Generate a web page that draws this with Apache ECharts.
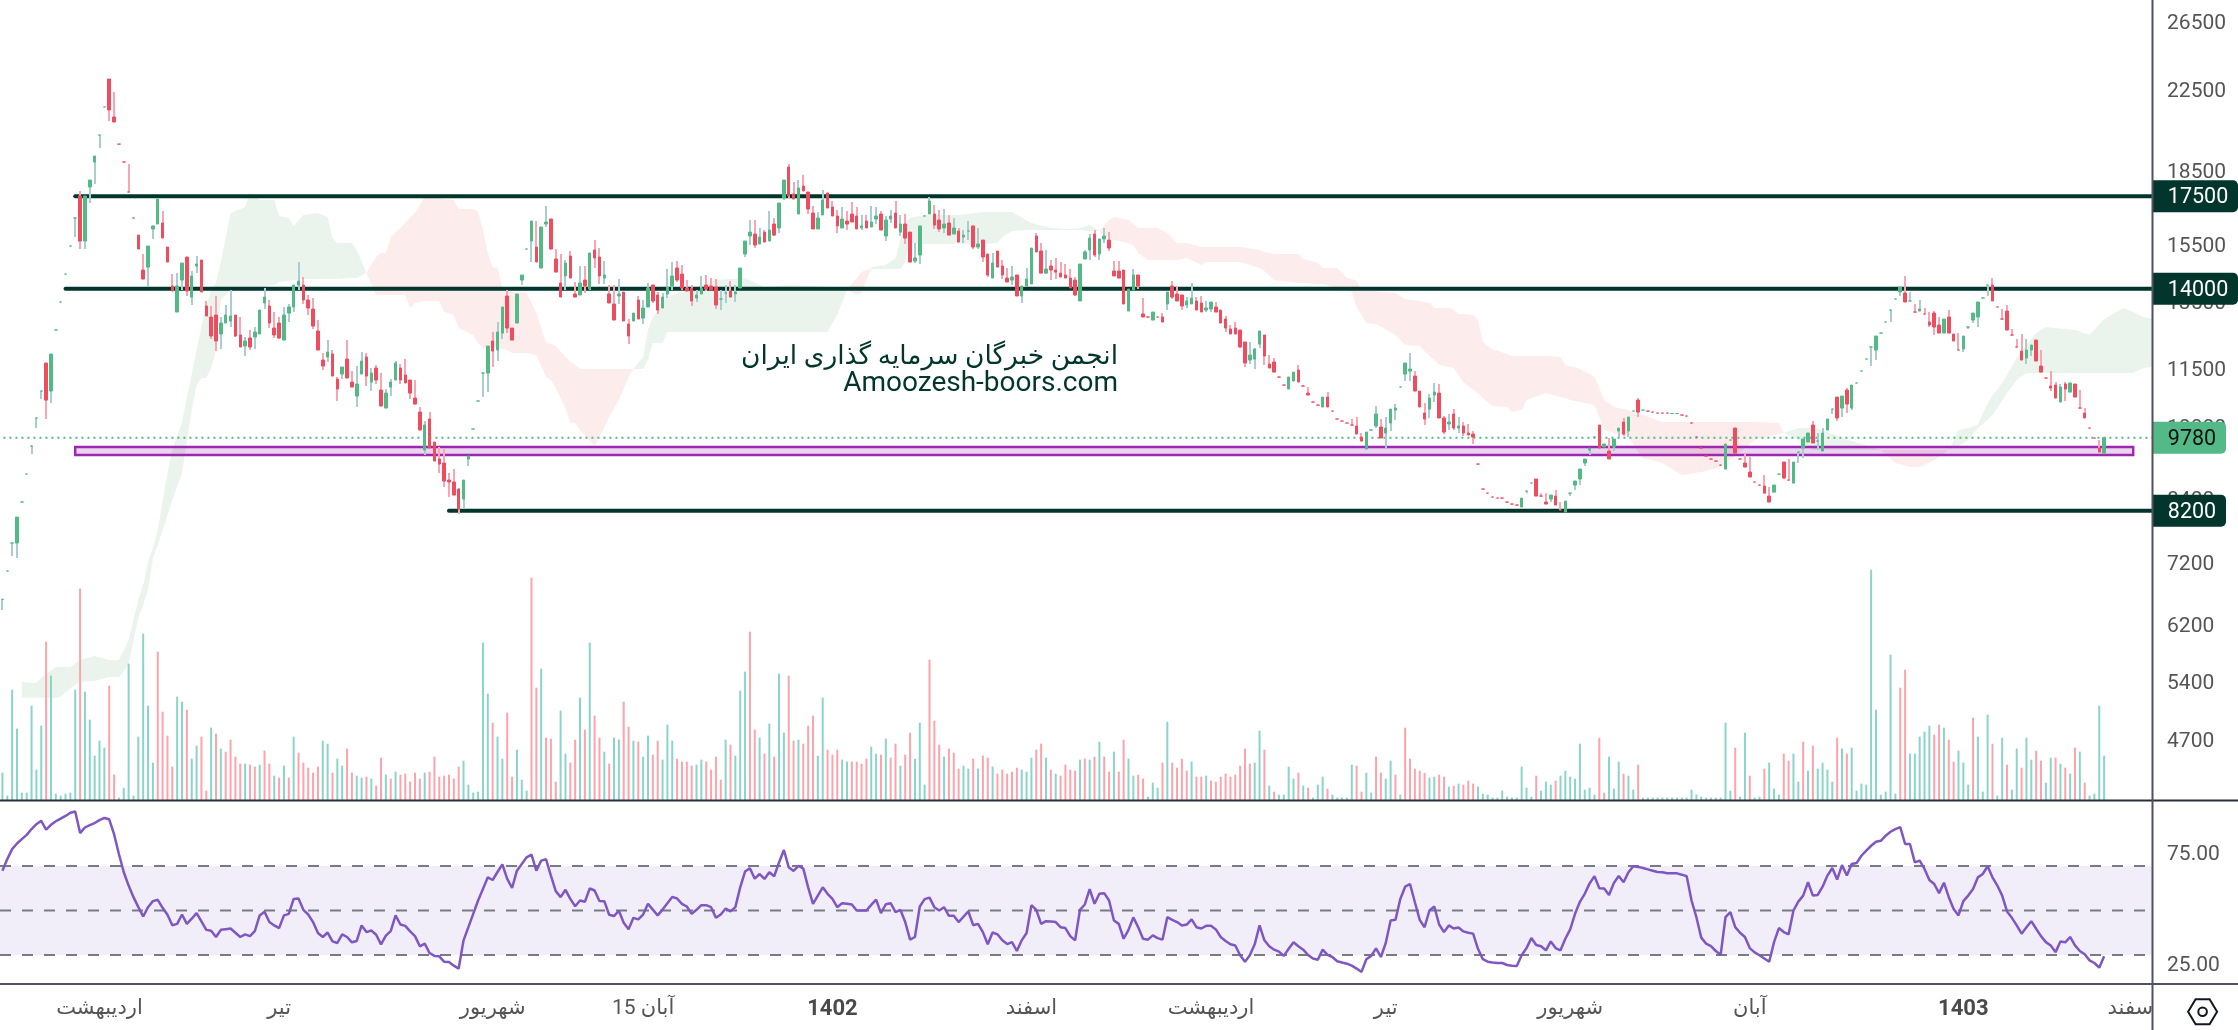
<!DOCTYPE html>
<html lang="fa"><head><meta charset="utf-8"><title>chart</title>
<style>html,body{margin:0;padding:0;background:#fff}#c{width:2238px;height:1030px}</style>
<script src="https://cdn.jsdelivr.net/npm/echarts@6/dist/echarts.min.js"></script></head>
<body><div id="c"></div>
<script>
// [open, close, low, high]
const candles = [
[6625,6626,6456,6626],[7092,7093,7092,7093],[7588,7589,7352,7589],[7588,8077,7318,8077],[8375,8376,8375,8376],[8958,8959,8958,8959],[9586,9587,9401,9587],[10255,10256,10010,10256],[10943,10944,10734,10944],[11708,10708,10230,11708],
[10943,11964,10631,11964],[12676,12677,12676,12677],[13562,13563,13562,13563],[14505,14506,14505,14506],[15520,15521,15520,15521],[16604,16605,15860,16605],[17510,15708,15408,17720],[15708,17510,15408,17510],[17892,18196,17216,18196],[19005,19280,18023,19280],
[20280,20281,19655,20281],[21700,21701,21700,21701],[23210,21540,20975,23210],[21180,20925,20925,22490],[19840,19839,19839,19840],[19005,19004,19004,19005],[17678,17677,17677,18910],[16604,16603,16603,16604],[15935,15408,15408,15935],[14648,14333,14333,15225],
[14753,15520,14060,15520],[16170,16290,15785,16290],[16365,17382,16365,17382],[16405,15822,15822,16886],[15483,14933,14933,15483],[14095,13925,13925,14505],[13238,14095,13238,14540],[14299,14898,13959,14898],[15115,13925,13760,15115],[13725,14440,13465,14612],
[14790,14862,14540,15150],[15005,13893,13893,15005],[13432,13112,13112,13595],[13080,12495,12405,13432],[13143,12345,12050,13760],[12555,12892,12110,13080],[12892,13143,12892,13465],[12954,13112,12768,13959],[13143,12495,12465,13143],[12525,12168,12168,13080],
[12197,12345,11908,12465],[12435,12168,12080,12676],[12465,12615,12110,12768],[12555,13302,12555,13302],[13530,13725,13335,14027],[13432,12892,12737,13627],[12737,12525,12435,13238],[12892,12435,12405,13080],[12374,13143,12374,13400],[13206,13400,12923,13497],
[13400,14129,13238,14129],[14129,14265,13959,14933],[14129,13627,13497,14404],[13627,13367,13143,13793],[13335,12799,12707,13693],[12646,12080,12080,12985],[11792,11623,11511,11993],[11878,12022,11736,12374],[11964,11346,11346,12080],[11264,10996,10683,11319],
[11401,11595,11264,11595],[11820,11292,11292,12374],[11183,11049,11049,11483],[10812,11130,10530,11623],[11401,11764,11401,12022],[11878,11346,11076,11993],[11183,11428,10943,11567],[11567,11237,11130,11651],[10969,10555,10555,11428],[10504,10890,10504,10996],
[11049,11183,10812,11264],[11237,11708,11237,11764],[11567,11237,11130,11680],[11374,11157,11157,11820],[11237,10890,10734,11237],[10760,10605,10605,11237],[10403,9962,9962,10530],[9493,10083,9380,10180],[10230,9539,9539,10403],[9678,9245,9245,9678],
[9290,9178,8981,9562],[9200,8810,8683,9516],[8831,8789,8477,8981],[8789,8517,8517,9068],[8641,8235,8135,8662],[8436,8831,8255,8831],[9290,9358,9134,9358],[9986,9987,9986,9987],[10683,10684,10683,10684],[11428,11429,10786,11429],
[11428,12197,10916,12197],[12345,12050,11595,12615],[12080,12615,11764,12923],[12584,13400,12405,13400],[13760,12737,12584,13959],[12737,12374,12374,12737],[12892,13825,12892,13825],[14299,14473,14129,14473],[15408,15409,15408,15409],[15708,16485,14933,16485],
[15483,14933,14933,16485],[14719,16248,14719,16248],[16365,16445,16248,17090],[16565,15408,15408,16565],[15042,14576,14576,15408],[14197,13725,13725,15225],[14440,14898,13959,15005],[15150,14368,14368,15335],[13827,13725,13725,14231],[13793,14197,13793,14790],
[14299,14095,13859,14790],[13993,15262,13959,15262],[15371,15079,14719,15746],[15115,14440,14163,15445],[14368,14473,14163,14969],[13827,13530,13530,14129],[13497,12985,12985,14129],[13760,13827,13497,14333],[13893,12954,12954,13893],[12861,12495,12255,13017],
[12954,13206,12954,13206],[13627,13017,13017,13760],[13048,13367,12861,13627],[13400,14027,13400,14197],[14129,13595,13530,14129],[13793,13302,13175,13893],[13367,13725,13367,13859],[13825,14060,13693,14684],[14095,14440,13959,14933],[14719,14299,14231,14969],
[14505,14027,13959,14826],[14027,13925,13925,14299],[14027,13595,13432,14129],[13693,13793,13562,13959],[13827,14027,13827,14440],[14129,13993,13925,14473],[14095,13959,13959,14368],[14060,13465,13335,14333],[13660,13661,13302,13959],[13859,13860,13530,14129],
[13925,13725,13725,14265],[13827,13893,13562,14129],[14027,14719,14027,14719],[15225,15708,15115,15708],[15900,16050,15558,16524],[15975,15558,15445,16524],[15595,15860,15595,16209],[16050,15670,15670,16130],[15708,16130,15708,16886],[16365,15935,15900,16604],
[16209,17216,16012,17216],[17424,18196,17340,18196],[18775,17510,17424,18910],[17595,17382,17382,18110],[16765,17850,16765,18196],[17937,17720,17720,18415],[17678,16968,16765,17678],[16805,16170,16170,17090],[16170,16604,16170,16845],[16725,17340,16725,17763],
[17637,17008,17008,17637],[17050,16685,16685,17298],[16685,16290,16012,16927],[16209,16565,16209,17050],[16485,16365,16130,16886],[16765,16445,16445,17256],[16685,16170,16170,17050],[16209,16290,16130,16725],[16485,16209,16209,16725],[16248,16445,16248,17090],
[16565,16685,16365,17050],[16765,16130,16130,16886],[15900,16524,15708,16685],[16565,16685,16405,16927],[16805,16209,16209,17298],[16050,16365,15900,16725],[16365,15822,15595,16765],[16050,14933,14933,16050],[14969,15079,14898,15633],[15188,16290,14862,16290],
[16685,16686,16685,16686],[16765,17298,16765,17467],[16765,16325,16170,17130],[16524,16170,16050,16927],[16209,16365,16012,16968],[16405,15935,15935,16725],[15975,16209,15975,16604],[16091,15670,15670,16209],[15860,15935,15633,16130],[16091,16092,15746,16485],
[16290,15483,15408,16290],[15483,15595,15408,16209],[15746,15115,14933,15746],[15225,14473,14404,15225],[14368,14898,14368,15262],[15335,14753,14753,15335],[14790,14473,14333,15005],[14368,14231,14231,14719],[14299,14404,14129,14790],[14473,13760,13760,14473],
[13760,14095,13530,14095],[14095,14333,14095,14719],[14163,15445,14163,15445],[15900,15300,15300,16012],[15335,14540,14540,15633],[14540,14684,14505,15371],[14790,14648,14299,15005],[14648,14576,14333,15079],[14540,14404,14404,14933],[14473,14368,14368,14862],
[14368,14027,14027,14684],[14299,13793,13760,14404],[13595,14862,13595,14862],[15042,15300,15042,15371],[15371,15822,15005,15975],[15975,15188,15115,16130],[15225,15785,15005,15785],[15785,15900,15633,16209],[15746,15445,15335,16050],[14612,14440,14440,14969],
[14612,14368,14368,14969],[14648,13497,13497,14648],[13270,13993,13270,13993],[13959,14473,13959,14684],[14473,14095,13993,14473],[13175,13080,13080,13693],[13080,13079,13079,13080],[12985,13238,12985,13238],[13080,13079,13079,13080],[13080,12923,12923,13206],
[13497,13893,13302,13893],[14095,13725,13660,14265],[13827,13595,13595,14095],[13793,13432,13302,13793],[13465,13595,13367,13725],[13497,13693,13497,14197],[13595,13302,13302,13725],[13530,13238,13238,13760],[13302,13367,13238,13595],[13335,13562,13238,13562],
[13400,13238,13238,13562],[13302,12892,12892,13302],[13017,12737,12615,13112],[12707,12555,12555,12830],[12737,12555,12555,12923],[12676,12168,12139,12676],[12315,11708,11595,12315],[11792,11935,11680,12315],[11820,12110,11539,12139],[12255,12646,12139,12646],
[12525,11908,11651,12525],[11680,11567,11567,11935],[11736,11455,11455,11850],[11319,11318,11318,11319],[11103,11102,11102,11103],[10996,11319,10996,11319],[11210,11455,11210,11455],[11511,11183,11183,11651],[11076,11075,11075,11103],[10890,10838,10838,11049],
[10657,10656,10656,10657],[10580,10579,10579,10580],[10530,10786,10530,10786],[10786,10530,10530,10916],[10428,10427,10427,10428],[10230,10229,10229,10230],[10180,10179,10179,10180],[10132,10131,10131,10132],[10083,10082,10082,10230],[10059,9866,9866,10280],
[9795,9700,9700,9890],[9516,9914,9516,9914],[9962,9963,9962,9963],[10059,10354,10010,10555],[10035,9772,9772,10230],[9890,10010,9539,10280],[10132,10478,9938,10478],[10453,10504,10205,10605],[11049,11050,11049,11050],[11401,11708,11210,11708],
[11483,11539,11210,11993],[11346,10943,10943,11483],[10943,10530,10530,10943],[10378,10230,10083,10631],[10478,10760,10255,10864],[10838,10916,10657,11157],[10890,10255,10255,11130],[10255,9914,9866,10304],[10108,10156,9962,10354],[10354,10010,9962,10478],
[10010,10059,9890,10280],[10059,9890,9819,10156],[9890,9843,9843,10108],[9866,9795,9632,9938],[9178,9177,9177,9178],[8641,8640,8640,8641],[8557,8556,8556,8557],[8477,8476,8476,8477],[8456,8455,8455,8456],[8456,8455,8455,8456],
[8375,8374,8374,8375],[8335,8334,8334,8335],[8315,8314,8314,8315],[8275,8456,8275,8456],[8599,8600,8557,8600],[8767,8768,8767,8768],[8853,8497,8497,8853],[8497,8496,8496,8557],[8375,8335,8335,8557],[8436,8517,8375,8517],
[8497,8315,8315,8620],[8215,8214,8214,8375],[8175,8395,8175,8395],[8557,8558,8497,8558],[8725,8810,8620,8810],[8853,9068,8725,9068],[9200,9290,9134,9290],[9493,9539,9380,9539],[9795,9796,9795,9796],[10083,9539,9539,10083],
[9562,9632,9562,9632],[9470,9290,9290,9772],[9562,9748,9470,9748],[9938,10010,9795,10010],[10156,9866,9819,10255],[9938,10280,9795,10280],[10428,10429,10428,10429],[10708,10403,10280,10760],[10453,10454,10453,10454],[10428,10427,10427,10428],
[10403,10402,10402,10403],[10378,10377,10377,10378],[10378,10377,10377,10378],[10378,10377,10377,10378],[10365,10366,10365,10366],[10365,10366,10365,10366],[10329,10328,10328,10329],[10304,10303,10303,10304],[10132,10131,10131,10132],[9795,9794,9794,9795],
[9539,9538,9538,9539],[9357,9356,9356,9357],[9290,9289,9289,9290],[9245,9244,9244,9245],[9156,9155,9155,9156],[9068,9632,9068,9632],[9724,9725,9724,9725],[10010,9424,9424,10010],[9290,9289,9289,9290],[9200,9112,9112,9401],
[9002,8896,8896,9335],[8789,8788,8788,8789],[8725,8724,8724,8725],[8704,8557,8557,8938],[8497,8375,8375,8683],[8578,8725,8578,8725],[8958,8959,8958,8959],[9223,8874,8853,9223],[8831,8830,8830,9290],[8767,9223,8767,9223],
[9447,9448,9200,9448],[9539,9748,9312,9748],[9678,9890,9678,9890],[10083,9655,9655,10180],[9701,9702,9493,9890],[9470,9890,9470,10010],[9962,10230,9962,10230],[10478,10479,10354,10479],[10786,10255,10180,10786],[10504,10812,10280,10812],
[10969,10605,10378,11023],[10504,11103,10453,11103],[11157,11158,11157,11158],[11483,11484,11483,11484],[11820,11821,11820,11821],[12168,12169,11623,12169],[12080,12495,11792,12495],[12584,12585,12584,12585],[12923,12924,12923,12924],[13302,13303,12923,13303],
[13660,13661,13660,13661],[13893,14060,13760,14060],[13859,13562,13562,14440],[13595,13596,13595,13893],[13238,13237,13237,13497],[13270,13335,13270,13627],[13175,13174,13174,13367],[12923,12830,12768,13238],[13206,12768,12525,13270],[12830,12584,12584,13080],
[12584,13017,12584,13017],[13080,12584,12584,13302],[12555,12345,12345,12555],[12080,12079,12079,12584],[12110,12495,12022,12495],[12768,12769,12707,12769],[12985,13206,12892,13206],[13080,13562,12768,13562],[13693,13694,13693,13694],[14129,14130,13760,14130],
[14129,13595,13595,14368],[13400,13399,13399,13400],[13017,13016,13016,13335],[13270,12676,12676,13465],[12525,12524,12524,12707],[12168,12167,12167,12405],[12050,11792,11792,12555],[11850,12080,11680,12405],[12080,12227,11908,12227],[12374,11764,11764,12374],
[11623,11455,11455,12080],[11292,11291,11291,11292],[11076,11023,10943,11483],[11103,10760,10760,11183],[10657,11049,10657,11130],[11130,10996,10683,11183],[10916,11157,10916,11157],[11130,10786,10786,11130],[10504,10503,10503,10969],[10378,10255,10255,10504],
[10010,10009,10009,10010],[9772,9771,9771,9772],[9539,9447,9447,9724],[9424,9780,9424,9780]
];
const volumes = [
82,13,331,214,22,22,283,91,223,475,373,19,13,19,22,331,634,325,241,133,
178,157,343,76,7,37,409,13,190,499,283,112,445,265,193,100,310,295,271,124,
163,190,28,217,199,154,145,181,130,109,109,106,100,106,148,109,73,67,103,67,
190,142,112,97,82,100,178,169,82,124,103,154,82,73,67,70,64,43,127,76,
64,85,76,79,55,82,64,82,85,130,70,73,76,64,100,118,46,22,25,472,
319,232,190,124,262,70,151,61,28,667,337,394,187,184,55,268,139,112,181,307,
211,472,253,187,145,109,187,181,295,220,178,175,130,193,136,178,121,226,178,124,
115,115,103,106,121,115,91,130,61,181,166,133,328,385,505,211,187,139,229,130,
379,202,373,178,181,169,223,253,133,307,151,136,151,121,115,115,115,109,124,160,
139,136,184,127,169,103,136,202,124,232,46,421,238,166,130,154,142,94,103,94,
124,94,133,127,100,79,91,79,85,97,91,85,127,151,169,127,91,79,73,106,
91,88,121,124,121,130,175,130,85,145,85,181,124,73,76,64,10,52,37,112,
235,112,97,124,88,115,70,70,73,58,55,70,79,70,76,103,154,109,112,208,
151,43,25,16,16,100,64,82,43,37,7,46,70,34,16,7,7,7,106,103,
25,82,22,130,82,64,118,76,16,217,124,94,88,82,67,70,76,70,40,43,
49,46,58,49,40,19,16,7,7,28,10,7,7,100,37,10,73,28,55,46,
58,73,88,70,64,169,31,37,16,187,22,130,34,115,79,73,31,106,7,7,
7,7,7,7,7,7,7,7,31,16,10,7,7,7,7,232,28,157,10,202,
73,7,10,94,112,34,16,139,118,139,55,175,88,163,94,112,91,55,187,154,
139,157,28,49,46,691,271,16,25,436,19,337,391,139,139,190,205,223,196,226,
217,181,115,148,112,46,247,190,25,256,169,13,187,106,31,154,97,187,121,148,
118,52,127,127,109,97,79,157,145,52,13,19,283,133
];
const volumeSides = [
'gggggggggr','ggggggrggg','ggrrgggggg','ggrrrrggrg','grrgrgrrrr','grrgrrgrgr','grrrrrggrg','grrggrgrrg','rgrrrrrgrr','rrrrrggggg',
'grggrrgggr','rgrrrggrrg','rgrrgrggrr','grggrrgggr','rrrggrrrrg','rgggrrgrgr','ggrrgrrrgg','rrrggrrrrg','grgrrgrrgg','grrrgrrrgg',
'rgrrgrrrrr','gggrrgrgrr','rrgrgrgrrg','rrggrrgggr','grrrrgrrgr','rrrrrrrrgg','rgrggggrgr','gggrgggggr','rggrrggrgr','rrrrggrrgr',
'grrrgggggg','ggggggrggg','rggggggggr','rgggrggrgg','gggggggggg','gggggggrgg','rggrgggrrg','grgrggggrg','rggggggggg','grrgggggrr',
'grrgggrggg','rggrggrggr','rggrgrgrgr','gggg'
].join('');
const rsiValues = [
67.9,73.1,77.6,80.1,82.1,84,86.6,88.8,90.3,86.3,88.5,90.1,91.3,92.5,93.9,94.5,84.8,87.3,88.4,89.3,
90.6,91.6,91,84.3,75.4,67.2,61.2,56,51.5,47.3,51.5,54.2,54.8,51.2,48.1,43.4,44,48.2,44,46.3,
48.8,45.1,41.3,40.9,38.1,41.3,41.6,41.9,40,38.1,39.3,38.5,40.7,47.8,49.4,44.8,43.3,42.1,47.8,48.5,
55.2,55.4,50.3,48.2,44.8,39.9,38.1,40.1,36.1,35.4,39.3,38.1,35.7,36.3,43.3,40.3,41,39.1,34.8,38.7,
40.7,47.8,43.7,43.1,40.6,38.5,33.9,35.1,30.9,29.6,29.4,27,26.9,25.2,23.9,36.6,42.5,48.5,54.5,59.7,
64.9,63.7,67.3,70.7,64.2,60.1,67.9,70.9,73.9,75.1,67.9,72.4,73,65.7,58.7,56,59.3,55.2,51.9,54.5,
53.9,59.9,59,54.3,54.2,48.1,47.5,49.9,44.5,41.6,46.7,46,48.2,53,50.4,47.8,50.4,53.3,56.1,55.4,
53,51.8,48.5,50.3,52.4,52.4,51.5,46.7,48.2,50.9,49.6,51.5,60.4,67.5,69,64.3,66.4,64.2,67.2,65.4,
71.6,77.2,69.4,67.8,70.1,68.8,60.4,53,56.7,60.4,57.5,55.2,51.5,53.3,53,52.7,50,50,50,52.5,
54.9,48.8,52.8,53.3,49.3,50.3,44.8,36.9,38.1,51.8,55.1,55.8,51.5,50,51.5,47.6,47.6,44.8,47.2,49.6,
43.4,44,40.3,34.8,40.1,39.3,36.6,34.9,35.8,31.8,36.6,39.9,52.4,50.3,44,45.2,45.1,44.8,42.5,42.1,
38.5,36.6,50.3,52.7,59.6,53,57.5,57.8,54.5,45.5,44,37.3,41.3,46.9,42.5,37.3,36.9,38.8,37.6,36.9,
47,45.8,44.8,43.3,43.7,46,42.5,41.9,43.1,43.1,41.5,38.1,36.3,34.8,34.3,29.9,27,29.9,34.8,43.3,
36.6,33.9,32.4,31.5,29.6,32.8,35.7,33.9,32.4,30,28.4,27.9,32.4,30.1,29.1,27.2,26.6,26.1,25.2,23.9,
22.4,28.1,29.6,33,29.1,35.4,45.5,45.8,55.2,60.7,61.9,53.7,45.8,42.5,50,51.8,43.7,40.3,43.3,41.9,
42.4,40.6,40,39.6,32.8,28.1,27,26.6,26.4,26.4,25.5,25.2,25.1,29.9,33.1,37.6,34.5,33.9,32.1,36.1,
33.1,32.1,37.3,41.5,48.5,53.9,57.5,62.2,65.4,60,59.9,57,62.4,65.5,62.7,67.2,69.9,69.6,69.1,68.5,
67.9,67.3,67.2,66.7,66.7,66.7,66.1,65.4,54.5,47,37.8,35.1,34,31.8,30.1,47,49.3,42.5,40,38.1,
33.1,31.2,29.9,28.4,27,35.8,42.1,40.3,39.3,50,54,56.7,62.7,56.7,57,60.7,65.7,69.1,63.9,70.4,
65.7,70.9,71.3,74.6,76.9,79.1,80.9,81.3,83.6,85.4,86.6,87.5,79.9,79.9,71.6,72.4,68.7,63.7,61.9,57.8,
62.5,56,50.7,47.8,54.2,56.7,59.7,64.9,66.4,69.9,64.9,61.2,56.7,49.6,46.7,43.3,39.6,42.5,45.2,41.8,
38.5,35.8,34.3,31.3,36.1,35.7,38.1,34.3,31.8,30.3,27.6,26.4,24.3,29.4
];
// Ichimoku cloud: [bar index, upper, lower]
const cloudGreen1 = [[4,5428,5226],[7,5415,5226],[8,5480,5226],[11,5627,5226],[12,5627,5238],[14,5627,5349],[16,5725,5428],[19,5781,5441],[22,5725,5493],[24,5725,5493],[26,6005,5654],[28,6613,6346],[29,6857,6535],[30,7248,6775],[31,7496,7317],[32,7828,7551],[34,8981,8115],[35,9493,8415],[37,10156,8981],[39,11401,10453],[40,12080,11103],[41,12799,11292],[42,13465,11292],[43,13959,11567],[44,14197,12080],[45,14933,13627],[47,16805,13959],[50,17050,13993],[51,17637,14027],[53,17340,14060],[56,17340,14129],[57,16685,14231],[59,16604,14265],[60,16290,14299],[62,16725,14333],[65,16805,14333],[67,16645,14333],[68,15822,14333],[69,15633,14333],[72,15633,14368],[73,15371,14368],[75,14540,14540]];
const cloudRed1 = [[75,14540,14540],[77,15115,13793],[78,15262,13793],[79,15262,13793],[80,15860,13793],[83,16405,13793],[84,16645,13367],[85,16805,13530],[87,17467,13595],[90,17424,13595],[91,17382,13238],[93,17340,13143],[94,16968,12737],[97,16968,12525],[98,16845,12285],[99,16130,12139],[100,15262,12139],[101,14753,12139],[102,14719,12139],[103,14060,12110],[104,13959,12080],[105,13893,11993],[108,13859,11993],[110,13206,11935],[112,12285,11319],[113,12255,11237],[114,12197,11023],[116,11878,10504],[117,11736,10132],[118,11651,10132],[119,11539,9962],[122,11539,9586],[125,11539,10280],[127,11539,10708],[129,11539,11319],[130,11539,11539]];
const cloudGreen2 = [[130,11539,11539],[132,11878,11539],[133,12676,11792],[134,13080,12285],[136,13465,12285],[137,13725,12615],[147,14299,12615],[153,14368,12615],[157,14060,12615],[162,14129,12615],[170,14060,12615],[172,14027,13143],[174,13959,13959]];
const cloudRed2 = [[174,13959,13959],[176,14368,13793],[177,14576,13859],[178,14648,14299],[179,14684,14684]];
const cloudGreen3 = [[179,14753,14684],[182,14826,14684],[184,15079,14684],[185,15746,14684],[186,16445,14933],[187,16604,15633],[190,16725,15595],[197,16725,15595],[202,16845,15595],[205,16845,15633],[206,16845,15860],[208,16845,16091],[212,16405,16130],[216,16209,16130],[220,16170,16130],[222,16209,16130],[224,16325,16091],[226,16091,16091]];
const cloudRed3 = [[226,16091,16091],[228,16524,15822],[229,16645,15746],[232,16524,15633],[233,16365,15558],[234,16209,15262],[236,16209,15005],[238,16209,15005],[240,16012,15005],[242,15633,15005],[244,15633,15079],[247,15483,14826],[248,15483,14933],[255,15483,14933],[259,15371,14719],[260,15300,14612],[262,15225,14299],[267,15225,14197],[268,15042,14197],[271,14898,14163],[272,14719,14163],[275,14719,14027],[277,14368,13925],[278,14333,13893],[279,14265,13400],[280,13959,13143],[281,13925,12892],[283,13925,12861],[287,13859,12525],[289,13660,12227],[292,13595,12197],[294,13530,11908],[295,13367,11792],[296,13367,11651],[298,13367,11595],[299,13302,11567],[300,13175,11374],[301,13175,11183],[303,13143,10969],[304,12985,10890],[305,12315,10760],[306,12197,10657],[307,12110,10555],[310,11964,10530],[311,11908,10403],[313,11908,10453],[314,11908,10708],[318,11908,10890],[321,11878,10786],[322,11651,10760],[323,11623,10708],[325,11539,10657],[328,11319,10580],[329,11023,10280],[330,10708,9962],[332,10530,9890],[335,10453,9795],[337,10354,9447],[338,10329,9312],[342,10156,9200],[346,10156,8938],[350,10156,9002],[354,10156,9112],[358,10156,9447],[361,10156,9724],[366,10132,9866],[367,9890,9890]];
const cloudGreen4 = [[367,9890,9890],[370,10010,9724],[373,10010,9493],[375,9962,9493],[379,9772,9493],[383,9632,9493],[387,9493,9493]];
const cloudRed4 = [[387,9493,9493],[390,9493,9200],[393,9493,9112],[395,9493,9112],[398,9493,9267],[401,9493,9493]];
const cloudGreen5 = [[401,9493,9493],[403,9962,9586],[405,10010,9724],[407,10083,10010],[408,10378,10108],[410,10838,10329],[411,10969,10504],[413,11374,10890],[415,11850,11237],[417,12227,11428],[419,12584,11428],[421,12768,11428],[427,12676,11428],[430,12525,11428],[433,13017,11428],[437,13367,11428],[439,13238,11428],[441,13080,11567],[443,13017,11595]];

const levelPrices = [17500,14000,8200];
const levelStarts = [15,13,92];
const lastPrice = 9780;
const zoneBox = [15,439,9562,9380];
const priceTicks = [26500,22500,18500,15500,13500,11500,10000,8400,7200,6200,5400,4700];
const rsiTicks = [75,25];
const rsiGuides = [70,50,30];
const monthLabels = ['اردیبهشت','تیر','شهریور','آبان 15','1402','اسفند','اردیبهشت','تیر','شهریور','آبان','1403','اسفند'];
const monthLabelBars = [20,57,101,132,171,212,249,285,323,360,404,439];
const barSlots = 444;

const GREEN='#53b987',RED='#ef4c60',WICK_G='#a8ced2',WICK_R='#f9a6b2',DARK='#02362c';
const categories = Array.from({length:barSlots},(_,i)=>{const k=monthLabelBars.indexOf(i);return k<0?'':monthLabels[k];});
const cloudSegments = [[cloudGreen1,1],[cloudRed1,0],[cloudGreen2,1],[cloudRed2,0],[cloudGreen3,1],[cloudRed3,0],[cloudGreen4,1],[cloudRed4,0],[cloudGreen5,1]];
const FONT='Roboto, "Noto Sans", "DejaVu Sans", sans-serif';
const chart = echarts.init(document.getElementById('c'),null,{renderer:'canvas'});
const rightX = api => api.coord([443,0])[0];

chart.setOption({
  animation:false, backgroundColor:'#ffffff',
  grid:[
    {left:-1.43,top:0,width:2156.5,height:800},
    {left:-1.43,top:802,width:2156.5,height:182}
  ],
  xAxis:[
    {type:'category',gridIndex:0,data:categories,boundaryGap:true,axisLine:{show:false},axisTick:{show:false},axisLabel:{show:false},splitLine:{show:false}},
    {type:'category',gridIndex:1,data:categories,boundaryGap:true,axisLine:{show:false},axisTick:{show:false},splitLine:{show:false},
     axisLabel:{show:true,interval:(i,v)=>v!=='',margin:14,fontFamily:FONT,fontSize:21,color:'#555',hideOverlap:false,
       formatter:v=>/^\d{4}$/.test(v)?'{y|'+v+'}':v,
       rich:{y:{fontFamily:FONT,fontSize:22,fontWeight:'bold',color:'#4a4a4a'}}}}
  ],
  yAxis:[
    {type:'log',logBase:10,gridIndex:0,position:'right',offset:-3,min:4085,max:28078,axisLine:{show:false},axisTick:{show:false},splitLine:{show:false},
     axisLabel:{customValues:priceTicks,margin:15,padding:[4,0,0,0],fontFamily:FONT,fontSize:21,color:'#555',formatter:v=>String(Math.round(v))}},
    {type:'value',gridIndex:0,min:0,max:2400,show:false,splitLine:{show:false}},
    {type:'value',gridIndex:1,position:'right',offset:-3,min:16.97,max:98.76,axisLine:{show:false},axisTick:{show:false},splitLine:{show:false},
     axisLabel:{customValues:rsiTicks,margin:15,padding:[4,0,0,0],fontFamily:FONT,fontSize:21,color:'#555',formatter:v=>v.toFixed(2)}}
  ],
  series:[
    {name:'cloud',type:'custom',xAxisIndex:0,yAxisIndex:0,z:1,silent:true,
     data:cloudSegments.map(s=>[s[0][0][0],s[0][0][1]]),
     renderItem:(p,api)=>{
       const seg=cloudSegments[p.dataIndex];const up=seg[0].map(q=>api.coord([q[0],q[1]]));const dn=seg[0].map(q=>api.coord([q[0],q[2]])).reverse();
       return {type:'polygon',shape:{points:up.concat(dn)},style:{fill:seg[1]?'#ebf4ec':'#fdecec'}};
     }},
    {name:'volume',type:'bar',xAxisIndex:0,yAxisIndex:1,z:2,barWidth:2,silent:true,
     data:volumes.map((v,i)=>({value:v,itemStyle:{color:volumeSides[i]==='r'?'#fda3ac':'#8bd4c8'}}))},
    {name:'zone',type:'custom',xAxisIndex:0,yAxisIndex:0,z:3,silent:true,data:[[zoneBox[0],zoneBox[2]]],
     renderItem:(p,api)=>{
       const a=api.coord([zoneBox[0],zoneBox[2]]),b=api.coord([zoneBox[1],zoneBox[3]]);
       return {type:'rect',shape:{x:a[0],y:a[1],width:b[0]-a[0],height:b[1]-a[1]},style:{fill:'rgba(156,39,176,0.2)',stroke:'#9c27b0',lineWidth:2.4}};
     }},
    {name:'lastLine',type:'custom',xAxisIndex:0,yAxisIndex:0,z:3,silent:true,data:[[0,lastPrice]],
     renderItem:(p,api)=>{
       const a=api.coord([0,lastPrice]);
       return {type:'line',shape:{x1:a[0]+1,y1:a[1],x2:rightX(api),y2:a[1]},style:{stroke:GREEN,lineWidth:2,lineDash:[2,4]}};
     }},
    {name:'levels',type:'custom',xAxisIndex:0,yAxisIndex:0,z:3,silent:true,data:levelPrices.map((v,k)=>[levelStarts[k],v]),
     renderItem:(p,api)=>{
       const a=api.coord([api.value(0),api.value(1)]);
       return {type:'line',shape:{x1:a[0],y1:a[1],x2:rightX(api),y2:a[1]},style:{stroke:DARK,lineWidth:4,lineCap:'round'}};
     }},
    {name:'wicks',type:'custom',xAxisIndex:0,yAxisIndex:0,z:4,silent:true,
     encode:{x:0,y:[1,2]},
     data:candles.map((c,i)=>[i,c[3],c[2],c[1]>=c[0]?1:0]),
     renderItem:(p,api)=>{
       const a=api.coord([api.value(0),api.value(1)]),b=api.coord([api.value(0),api.value(2)]);
       return {type:'rect',shape:{x:Math.round(a[0])-1,y:a[1],width:2,height:b[1]-a[1]},style:{fill:api.value(3)?WICK_G:WICK_R}};
     }},
    {name:'candles',type:'candlestick',xAxisIndex:0,yAxisIndex:0,z:5,barWidth:3,silent:true,
     data:candles.map(c=>[c[0],c[1],Math.min(c[0],c[1]),Math.max(c[0],c[1])]),
     itemStyle:{color:GREEN,color0:RED,borderColor:GREEN,borderColor0:RED,borderWidth:1}},
    {name:'rsiBand',type:'custom',xAxisIndex:1,yAxisIndex:2,z:1,silent:true,data:[[0,70]],
     renderItem:(p,api)=>{
       const a=api.coord([0,rsiGuides[0]]),b=api.coord([443,rsiGuides[2]]);
       return {type:'rect',shape:{x:0,y:a[1],width:b[0],height:b[1]-a[1]},style:{fill:'#f1eefa'}};
     }},
    {name:'rsiGuides',type:'custom',xAxisIndex:1,yAxisIndex:2,z:2,silent:true,data:rsiGuides.map(v=>[0,v]),
     renderItem:(p,api)=>{
       const a=api.coord([0,api.value(1)]);
       return {type:'line',shape:{x1:0,y1:a[1],x2:rightX(api),y2:a[1]},style:{stroke:'#787b86',lineWidth:2,lineDash:[11,11]}};
     }},
    {name:'RSI',type:'line',xAxisIndex:1,yAxisIndex:2,z:3,data:rsiValues,showSymbol:false,silent:true,lineStyle:{color:'#7e57c2',width:2.5},itemStyle:{color:'#7e57c2'}},
    {name:'tags',type:'custom',xAxisIndex:0,yAxisIndex:0,z:20,silent:true,
     data:levelPrices.concat([lastPrice]).map(v=>[443,v]),
     renderItem:(p,api)=>{
       const v=api.value(1),y=api.coord([443,v])[1];
       const wide=v>=14000,last=v===lastPrice;
       return {type:'group',children:[
         {type:'rect',shape:{x:2152,y:y-16,width:wide?86:74,height:32,r:[0,5,5,0]},style:{fill:last?GREEN:DARK}},
         {type:'text',style:{x:wide?2198:2192,y:y+1.5,text:String(v),align:'center',verticalAlign:'middle',font:'21.5px '+FONT,fill:last?'#111':'#fff'}}
       ]};
     }}
  ],
  graphic:[
    {type:'text',z:30,style:{x:1118,y:357,text:'انجمن خبرگان سرمایه گذاری ایران',align:'right',verticalAlign:'middle',font:'26.5px '+FONT,fill:DARK}},
    {type:'text',z:30,style:{x:1118,y:384,text:'Amoozesh-boors.com',align:'right',verticalAlign:'middle',font:'28px '+FONT,fill:DARK}},
    {type:'rect',z:40,shape:{x:2153,y:985,width:85,height:45},style:{fill:'#fff'}},
    {type:'line',z:41,shape:{x1:0,y1:800.5,x2:2238,y2:800.5},style:{stroke:'#2a2e39',lineWidth:2}},
    {type:'line',z:41,shape:{x1:0,y1:984,x2:2238,y2:984},style:{stroke:'#50535e',lineWidth:2}},
    {type:'line',z:41,shape:{x1:2152.5,y1:0,x2:2152.5,y2:1030},style:{stroke:'#50535e',lineWidth:2}},
    {type:'polygon',z:42,shape:{points:[[2188.1,1011.7],[2195.6,999.2],[2209.6,999.2],[2217.1,1011.7],[2209.6,1024.2],[2195.6,1024.2]]},style:{fill:'none',stroke:'#131722',lineWidth:2}},
    {type:'circle',z:42,shape:{cx:2202.6,cy:1011.7,r:4.3},style:{fill:'none',stroke:'#131722',lineWidth:2}}
  ]
});
</script></body></html>
